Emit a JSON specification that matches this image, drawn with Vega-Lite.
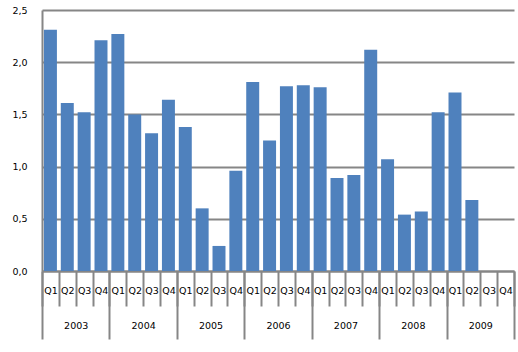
{
  "$schema": "https://vega.github.io/schema/vega-lite/v6.json",
  "width": 472,
  "height": 261,
  "autosize": {"type": "none"},
  "padding": {"left": 42, "top": 10, "right": 4, "bottom": 81},
  "background": "#ffffff",
  "config": {
    "view": {"stroke": null},
    "font": "DejaVu Sans",
    "axis": {"labelFont": "DejaVu Sans", "labelFontSize": 9.5, "labelColor": "#000000", "domainColor": "#868686", "tickColor": "#868686", "gridColor": "#868686"}
  },
  "data": {
    "values": [
      {"year": "2003", "period": "2003 Q1", "value": 2.31},
      {"year": "2003", "period": "2003 Q2", "value": 1.61},
      {"year": "2003", "period": "2003 Q3", "value": 1.52},
      {"year": "2003", "period": "2003 Q4", "value": 2.21},
      {"year": "2004", "period": "2004 Q1", "value": 2.27},
      {"year": "2004", "period": "2004 Q2", "value": 1.50},
      {"year": "2004", "period": "2004 Q3", "value": 1.32},
      {"year": "2004", "period": "2004 Q4", "value": 1.64},
      {"year": "2005", "period": "2005 Q1", "value": 1.38},
      {"year": "2005", "period": "2005 Q2", "value": 0.60},
      {"year": "2005", "period": "2005 Q3", "value": 0.24},
      {"year": "2005", "period": "2005 Q4", "value": 0.96},
      {"year": "2006", "period": "2006 Q1", "value": 1.81},
      {"year": "2006", "period": "2006 Q2", "value": 1.25},
      {"year": "2006", "period": "2006 Q3", "value": 1.77},
      {"year": "2006", "period": "2006 Q4", "value": 1.78},
      {"year": "2007", "period": "2007 Q1", "value": 1.76},
      {"year": "2007", "period": "2007 Q2", "value": 0.89},
      {"year": "2007", "period": "2007 Q3", "value": 0.92},
      {"year": "2007", "period": "2007 Q4", "value": 2.12},
      {"year": "2008", "period": "2008 Q1", "value": 1.07},
      {"year": "2008", "period": "2008 Q2", "value": 0.54},
      {"year": "2008", "period": "2008 Q3", "value": 0.57},
      {"year": "2008", "period": "2008 Q4", "value": 1.52},
      {"year": "2009", "period": "2009 Q1", "value": 1.71},
      {"year": "2009", "period": "2009 Q2", "value": 0.68},
      {"year": "2009", "period": "2009 Q3", "value": null},
      {"year": "2009", "period": "2009 Q4", "value": null}
    ]
  },
  "layer": [
    {
      "mark": {"type": "bar", "color": "#4F81BD", "width": {"band": 0.77}},
      "encoding": {
        "x": {
          "field": "period",
          "type": "nominal",
          "sort": null,
          "scale": {
            "domain": ["2003 Q1","2003 Q2","2003 Q3","2003 Q4","2004 Q1","2004 Q2","2004 Q3","2004 Q4","2005 Q1","2005 Q2","2005 Q3","2005 Q4","2006 Q1","2006 Q2","2006 Q3","2006 Q4","2007 Q1","2007 Q2","2007 Q3","2007 Q4","2008 Q1","2008 Q2","2008 Q3","2008 Q4","2009 Q1","2009 Q2","2009 Q3","2009 Q4"],
            "paddingInner": 0,
            "paddingOuter": 0
          },
          "axis": {
            "orient": "bottom",
            "title": null,
            "labelExpr": "slice(datum.label, 5)",
            "labelAngle": 0,
            "labelOverlap": false,
            "tickBand": "extent",
            "tickSize": 35,
            "tickWidth": 2,
            "labelPadding": -21,
            "domainWidth": 2
          }
        },
        "y": {
          "field": "value",
          "type": "quantitative",
          "scale": {"domain": [0, 2.5], "nice": false},
          "axis": {
            "title": null,
            "values": [0, 0.5, 1, 1.5, 2, 2.5],
            "labelExpr": "replace(format(datum.value, '.1f'), '.', ',')",
            "ticks": false,
            "labelPadding": 15,
            "grid": true,
            "gridWidth": 2,
            "domainWidth": 2
          }
        }
      }
    },
    {
      "mark": {"type": "rule", "opacity": 0},
      "encoding": {
        "x": {
          "field": "year",
          "type": "nominal",
          "sort": null,
          "scale": {"paddingInner": 0, "paddingOuter": 0},
          "axis": {
            "orient": "bottom",
            "title": null,
            "labelAngle": 0,
            "labelOverlap": false,
            "tickBand": "extent",
            "tickSize": 68,
            "tickWidth": 2,
            "labelPadding": -19,
            "domain": false
          }
        }
      }
    }
  ],
  "resolve": {"scale": {"x": "independent"}, "axis": {"x": "independent"}}
}
